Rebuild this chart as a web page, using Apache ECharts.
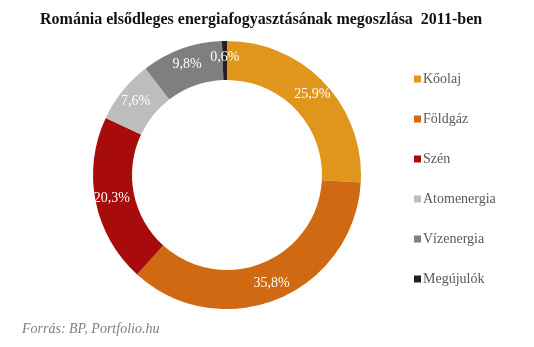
<!DOCTYPE html>
<html><head><meta charset="utf-8">
<script src="https://cdn.jsdelivr.net/npm/echarts@6/dist/echarts.min.js"></script>
<style>html,body{margin:0;padding:0;background:#fff}#c{width:534px;height:347px}</style>
</head><body><div id="c"></div>
<script>
const categories = ['Kőolaj','Földgáz','Szén','Atomenergia','Vízenergia','Megújulók'];
const values = [25.9, 35.8, 20.3, 7.6, 9.8, 0.6];
const colors = ['#E0961A','#D06A12','#A80B0B','#BDBDBD','#7F7F7F','#2B1A1E'];
const titleText = 'Románia elsődleges energiafogyasztásának megoszlása  2011-ben';
const sourceText = 'Forrás: BP, Portfolio.hu';

const serif = '"Liberation Serif", "DejaVu Serif", serif';
const chart = echarts.init(document.getElementById('c'), null, {renderer:'canvas'});
chart.setOption({
  animation:false,
  title:[{
    text:titleText, left:35, top:7,
    textStyle:{fontFamily:serif, fontWeight:'bold', fontSize:16, color:'#111'}
  },{
    text:sourceText, left:17, top:317,
    textStyle:{fontFamily:serif, fontStyle:'italic', fontWeight:'normal', fontSize:14, color:'#7f7f7f'}
  }],
  legend:{
    orient:'vertical', left:409, top:67,
    icon:'rect', itemWidth:7, itemHeight:7, itemGap:26,
    textStyle:{fontFamily:serif, fontSize:14, color:'#595959', lineHeight:14, padding:[0,0,0,-3]},
    data:categories
  },
  series:[{
    type:'pie', center:[227,175], radius:[95,134],
    startAngle:90, clockwise:true,
    label:{show:true, position:'inside', color:'#fff', fontFamily:serif, fontSize:14,
      formatter:p=>p.value.toFixed(1).replace('.',',')+'%'},
    labelLine:{show:false},
    emphasis:{disabled:true},
    data:categories.map((n,i)=>({name:n, value:values[i], itemStyle:{color:colors[i]}}))
  }]
});
</script></body></html>
